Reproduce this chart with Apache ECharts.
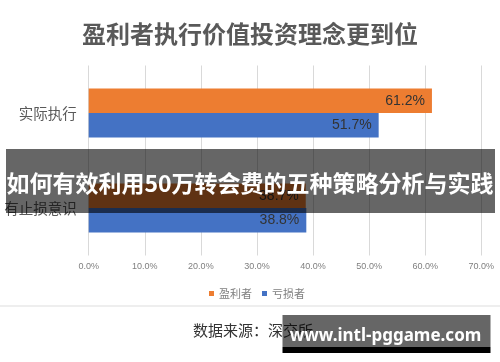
<!DOCTYPE html>
<html>
<head>
<meta charset="utf-8">
<script src="https://cdn.jsdelivr.net/npm/echarts@6/dist/echarts.min.js"></script>
<style>
html,body{margin:0;padding:0;background:#fff;}
#chart{width:500px;height:362px;}
</style>
</head>
<body>
<div id="chart"></div>
<script>
const titleText = '盈利者执行价值投资理念更到位';
const categories = ['实际执行', '有止损意识'];
const seriesNames = ['盈利者', '亏损者'];
const profitValues = [61.2, 38.7];
const lossValues = [51.7, 38.8];
const xMin = 0, xMax = 70, xStep = 10;
const sourceText = '数据来源：深交所';
const bannerText = '如何有效利用50万转会费的五种策略分析与实践';
const watermarkText = 'www.intl-pggame.com';

const chart = echarts.init(document.getElementById('chart'), null, {renderer: 'canvas'});
const cjk = '"Noto Sans CJK SC", "Noto Sans", sans-serif';
const latin = '"Liberation Sans", Arial, sans-serif';
const labelCfg = {
  show: true,
  position: 'insideRight',
  distance: 7,
  color: '#333',
  fontFamily: latin,
  fontSize: 14,
  formatter: p => p.value.toFixed(1) + '%'
};
chart.setOption({
  animation: false,
  backgroundColor: '#fff',
  title: {
    text: titleText,
    left: 'center',
    top: 17,
    textStyle: {fontFamily: cjk, fontSize: 24, fontWeight: 'bold', color: '#595959'}
  },
  legend: {
    data: seriesNames,
    left: 204,
    top: 283,
    icon: 'rect',
    itemWidth: 5,
    itemHeight: 5,
    itemGap: 10,
    textStyle: {fontFamily: cjk, fontSize: 11, color: '#7f7f7f'}
  },
  grid: {left: 88.7, right: 18.7, top: 65.5, bottom: 106.5, containLabel: false},
  xAxis: {
    type: 'value',
    min: xMin, max: xMax, interval: xStep,
    axisLine: {show: false},
    axisTick: {show: false},
    splitLine: {lineStyle: {color: '#d9d9d9', width: 1}},
    axisLabel: {
      margin: 7,
      color: '#7f7f7f',
      fontFamily: latin,
      fontSize: 9,
      formatter: v => v.toFixed(1) + '%'
    }
  },
  yAxis: {
    type: 'category',
    data: categories,
    inverse: true,
    axisLine: {show: false},
    axisTick: {show: false},
    axisLabel: {margin: 12, color: '#595959', fontFamily: cjk, fontSize: 14.5}
  },
  series: [
    {name: seriesNames[0], type: 'bar', data: profitValues, barWidth: 24.5, barGap: '0%',
     itemStyle: {color: '#ED7D31'}, label: labelCfg},
    {name: seriesNames[1], type: 'bar', data: lossValues, barWidth: 24.5, barGap: '0%',
     itemStyle: {color: '#4472C4'}, label: labelCfg}
  ],
  graphic: [
    {type: 'line', z: 100, shape: {x1: 0, y1: 306, x2: 500, y2: 306}, style: {stroke: '#eeeeee', lineWidth: 2}},
    {type: 'text', z: 100, x: 193, y: 330, style: {text: sourceText, fontFamily: cjk, fontSize: 15, fill: '#333', verticalAlign: 'middle'}},
    {type: 'rect', z: 110, shape: {x: 6, y: 149, width: 489, height: 64}, style: {fill: 'rgba(0,0,0,0.6)'}},
    {type: 'text', z: 111, x: 250, y: 183, style: {text: bannerText, fontFamily: cjk, fontSize: 23, fontWeight: 'bold', fill: '#fff', align: 'center', verticalAlign: 'middle'}},
    {type: 'rect', z: 110, shape: {x: 282.5, y: 315, width: 208, height: 32}, style: {fill: 'rgba(0,0,0,0.6)'}},
    {type: 'rect', z: 110, shape: {x: 282.5, y: 347, width: 208, height: 6}, style: {fill: '#000'}},
    {type: 'text', z: 111, x: 385.5, y: 336, style: {text: watermarkText, fontFamily: '"Noto Sans", "Open Sans", sans-serif', fontSize: 17, fontWeight: 'bold', fill: '#fff', align: 'center', verticalAlign: 'middle'}}
  ]
});
</script>
</body>
</html>
